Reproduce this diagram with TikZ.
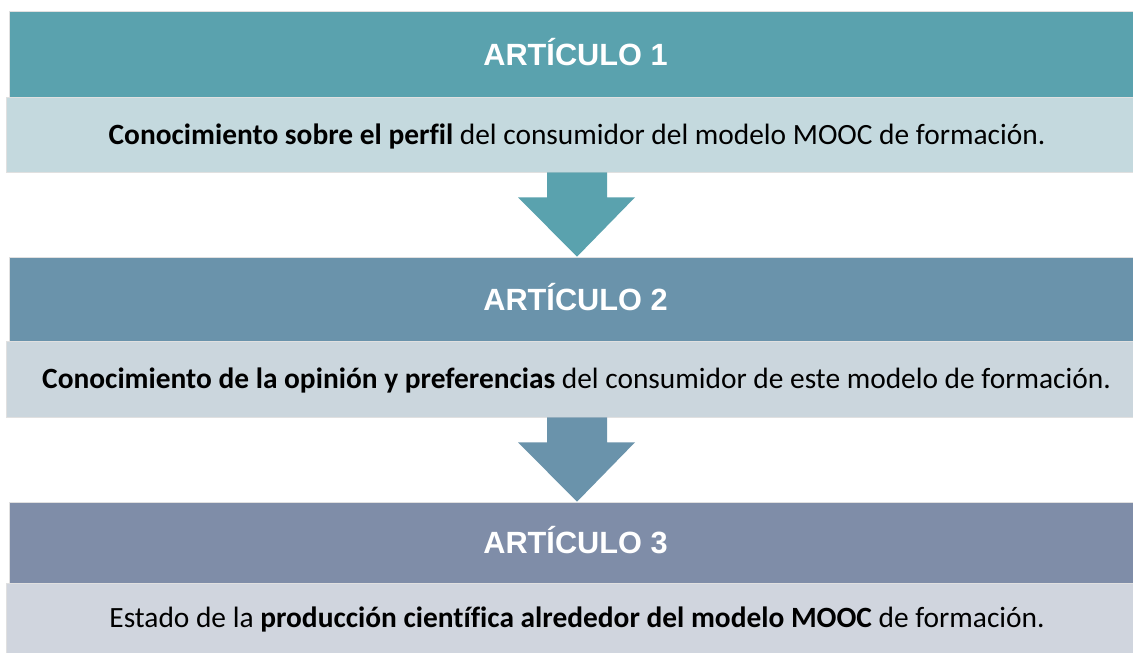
\documentclass[tikz,border=0pt]{standalone}
\usepackage{fontspec}
\setmainfont[Ligatures=NoCommon]{Carlito}
\newfontfamily\headfont{Liberation Sans}
\usetikzlibrary{calc}
\definecolor{headA}{HTML}{5AA2AE}
\definecolor{bodyA}{HTML}{C4D9DE}
\definecolor{headB}{HTML}{6A93AB}
\definecolor{bodyB}{HTML}{CBD6DD}
\definecolor{headC}{HTML}{7F8DA8}
\definecolor{bodyC}{HTML}{D0D5DE}
\begin{document}
\begin{tikzpicture}[x=1pt,y=-1pt,
    header/.style={draw=white!88!black,line width=.6pt,inner sep=0pt,
        text height=22pt,text depth=0pt,
        font=\headfont\bfseries\fontsize{30.7}{34}\selectfont,text=white},
    body/.style={draw=white!88!black,line width=.6pt,inner sep=0pt,
        text height=20pt,text depth=1pt,
        font=\fontsize{29.4}{34}\selectfont,text=black}]
    \useasboundingbox (0,0) rectangle (1133,653);
    \fill[white] (0,0) rectangle (1133,653);

    \node[header,fill=headA,minimum width=1124pt,minimum height=86pt] (h1) at (571,54)
        {\hspace{9pt}ARTÍCULO 1};
    \node[body,fill=bodyA,minimum width=1127pt,minimum height=75pt] (b1) at (569.5,134.5)
        {\hspace{15pt}\textbf{Conocimiento sobre el perfil} del consumidor del modelo MOOC de formación.};
    \node[header,fill=headB,minimum width=1124pt,minimum height=84pt] (h2) at (571,299)
        {\hspace{9pt}ARTÍCULO 2};
    \node[body,fill=bodyB,minimum width=1127pt,minimum height=76pt] (b2) at (569.5,379)
        {\hspace{14pt}\textbf{Conocimiento de la opinión y preferencias} del consumidor de este modelo de formación.};
    \node[header,fill=headC,minimum width=1124pt,minimum height=81pt] (h3) at (571,542.5)
        {\hspace{9pt}ARTÍCULO 3};
    \node[body,fill=bodyC,minimum width=1127pt,minimum height=70pt] (b3) at (569.5,618)
        {\hspace{15pt}Estado de la \textbf{producción científica alrededor del modelo MOOC} de formación.};

    % block arrows
    \coordinate (ax) at (577,0);
    \foreach \a/\b/\c in {b1/h2/headA, b2/h3/headB}{
        \coordinate (t) at (\a.south -| ax);
        \coordinate (p) at (\b.north -| ax);
        \fill[\c] ($(t)+(-30,0)$) -- ($(t)+(30,0)$) -- ($(t)+(30,25)$) -- ($(t)+(58,25)$)
            -- (p) -- ($(t)+(-59,25)$) -- ($(t)+(-30,25)$) -- cycle;
    }
\end{tikzpicture}
\end{document}
